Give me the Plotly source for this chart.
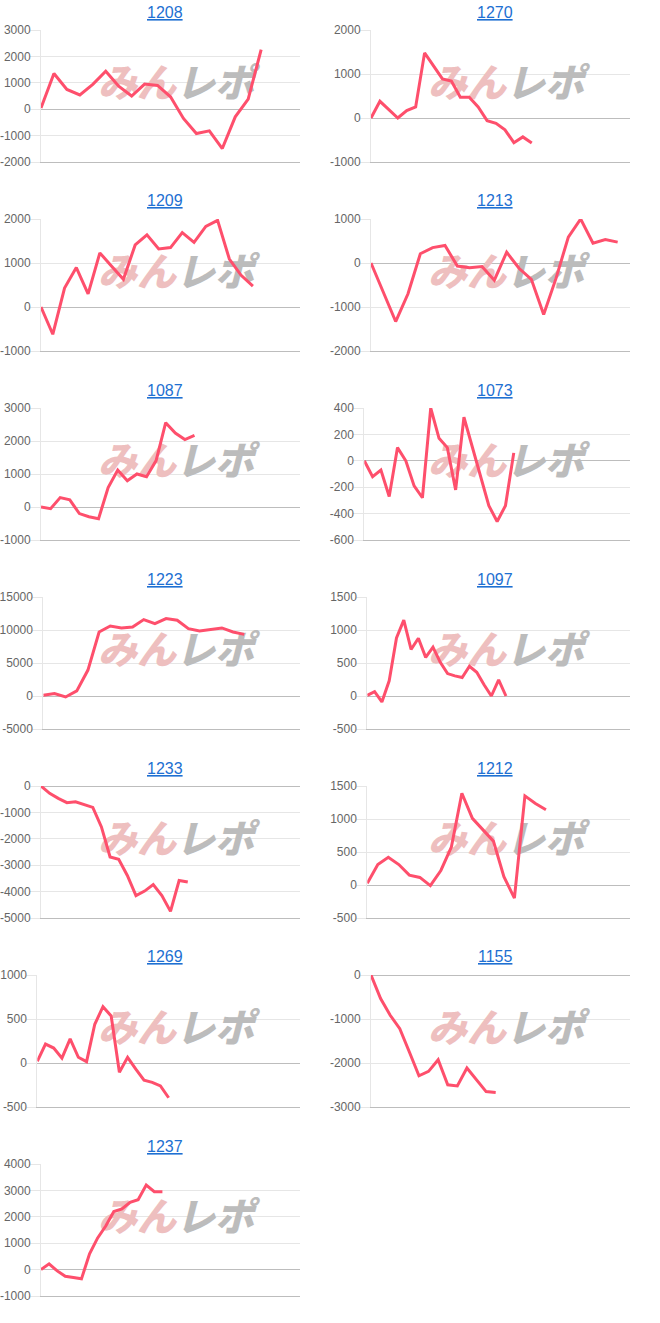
import plotly.graph_objects as go

# ---------------- data ----------------
titles = ["1208", "1270", "1209", "1213", "1087", "1073", "1223",
          "1097", "1233", "1212", "1269", "1155", "1237"]

s1208 = [50, 1350, 750, 540, 940, 1440, 870, 500, 950, 900, 470, -350, -920, -820, -1490, -290, 380, 2260]
s1270 = [0, 380, 190, 0, 170, 250, 1480, 1180, 890, 840, 470, 470, 250, -60, -120, -270, -560, -430, -570]
s1209 = [0, -620, 430, 895, 300, 1230, 925, 630, 1410, 1640, 1320, 1350, 1690, 1470, 1830, 1970, 1090, 720, 475]
s1213 = [0, -670, -1330, -700, 210, 350, 400, -70, -110, -80, -390, 245, -120, -370, -1170, -350, 590, 1000, 450, 535, 475]
s1087 = [0, -50, 285, 215, -200, -295, -355, 590, 1120, 795, 1000, 915, 1405, 2555, 2240, 2045, 2170]
s1073 = [0, -120, -70, -270, 100, 0, -190, -280, 400, 170, 100, -220, 330, 110, -120, -340, -460, -340, 60]
s1223 = [100, 360, -150, 770, 3930, 9700, 10610, 10300, 10460, 11580, 10970, 11730, 11480, 10200, 9850, 10050, 10310, 9700, 9340]
s1097 = [10, 65, -90, 230, 880, 1150, 705, 875, 585, 740, 510, 340, 305, 280, 450, 360, 170, 0, 245, 0]
s1233 = [0, -280, -470, -630, -600, -700, -810, -1550, -2690, -2780, -3390, -4150, -3980, -3730, -4150, -4750, -3580, -3640]
s1212 = [25, 310, 420, 310, 150, 115, -10, 220, 575, 1390, 1010, 830, 665, 125, -200, 1350, 1235, 1140]
s1269 = [20, 215, 170, 55, 275, 65, 15, 440, 640, 535, -105, 65, -70, -195, -220, -260, -395]
s1155 = [0, -535, -915, -1220, -1750, -2290, -2190, -1925, -2495, -2520, -2115, -2390, -2650, -2670]
s1237 = [0, 220, -50, -250, -300, -350, 600, 1200, 1650, 2200, 2300, 2550, 2650, 3200, 2950, 2950]

series = [s1208, s1270, s1209, s1213, s1087, s1073, s1223,
          s1097, s1233, s1212, s1269, s1155, s1237]

# number of category slots on the x axis (last index)
x_slots = [20, 29, 22, 21, 27, 32, 23, 36, 30, 25, 32, 27, 32]

# y axis: min, max, step
y_min = [-2000, -1000, -1000, -2000, -1000, -600, -5000, -500, -5000, -500, -500, -3000, -1000]
y_max = [3000, 2000, 2000, 1000, 3000, 400, 15000, 1500, 0, 1500, 1000, 0, 4000]
y_step = [1000, 1000, 1000, 1000, 1000, 200, 5000, 500, 1000, 500, 500, 1000, 1000]

# ---------------- layout (pixels) ----------------
W, H = 660, 1323
COL_W = 330
ROW_PITCH = 189
PLOT_TOP0, PLOT_BOT0 = 30, 162
TITLE_Y0 = 12
plot_right = [300, 630]
plot_left_offset = [41, 41, 41, 41, 41, 34.3, 43.3, 37.3, 41, 37.3, 37.3, 41, 41]

LINE_COLOR = "#fe4f6c"
GRID = "#e6e6e6"
ZERO = "#bdbdbd"
FONT = "Liberation Sans, Arial, sans-serif"

fig = go.Figure()
annotations = []


def px_to_paper_x(px):
    return px / W


def px_to_paper_y(py):
    return 1 - py / H


for k, (title, vals) in enumerate(zip(titles, series)):
    row, col = divmod(k, 2)
    c0 = col * COL_W
    left = c0 + plot_left_offset[k]
    right = plot_right[col]
    top = PLOT_TOP0 + ROW_PITCH * row
    bot = PLOT_BOT0 + ROW_PITCH * row
    n = x_slots[k]
    ymin, ymax, step = y_min[k], y_max[k], y_step[k]
    sfx = "" if k == 0 else str(k + 1)
    xa, ya = "x" + sfx, "y" + sfx

    tickvals = list(range(ymin, ymax + 1, step))
    ticktext = [str(v) for v in tickvals]

    fig.layout["xaxis" + sfx] = dict(
        domain=[px_to_paper_x(left), px_to_paper_x(right)],
        range=[0, n], anchor=ya, showgrid=False, zeroline=False,
        showticklabels=False, ticks="", showline=True, linecolor=ZERO,
        linewidth=1, fixedrange=True, automargin=False,
    )
    fig.layout["yaxis" + sfx] = dict(
        domain=[px_to_paper_y(bot), px_to_paper_y(top)],
        range=[ymin, ymax], anchor=xa, tickmode="array",
        tickvals=tickvals, ticktext=ticktext,
        showgrid=True, gridcolor=GRID, gridwidth=1,
        zeroline=True, zerolinecolor=ZERO, zerolinewidth=1,
        showline=True, linecolor=GRID, linewidth=1,
        ticks="outside", ticklen=10, tickcolor=GRID, tickwidth=1,
        ticklabelstandoff=-3,
        tickfont=dict(family=FONT, size=12, color="#666666"),
        fixedrange=True, automargin=False,
    )

    # watermark (drawn first so the line sits on top)
    wm_y_px = 87 + ROW_PITCH * row
    yd = ymax - (wm_y_px - top) / (bot - top) * (ymax - ymin)
    for txt, cx, color in (("みん", c0 + 137, "#eebfbf"), ("レポ", c0 + 215, "#bcbcbc")):
        xd = (cx - left) / (right - left) * n
        fig.add_trace(go.Scatter(
            x=[xd], y=[yd], mode="text", text=[txt], textposition="middle center",
            textfont=dict(family="Noto Sans CJK JP", size=39, color=color,
                          weight=900, style="italic"),
            xaxis=xa, yaxis=ya, hoverinfo="skip", showlegend=False, cliponaxis=False,
        ))

    fig.add_trace(go.Scatter(
        x=list(range(len(vals))), y=vals, mode="lines",
        line=dict(color=LINE_COLOR, width=3),
        xaxis=xa, yaxis=ya, showlegend=False, cliponaxis=False,
        hoverinfo="skip",
    ))

    annotations.append(dict(
        xref="paper", yref="paper",
        x=px_to_paper_x(c0 + 165), y=px_to_paper_y(TITLE_Y0 + ROW_PITCH * row),
        xanchor="center", yanchor="middle", showarrow=False,
        text="<u>" + title + "</u>",
        font=dict(family=FONT, size=16, color="#1e70d2"),
    ))

fig.update_layout(
    width=W, height=H, margin=dict(l=0, r=0, t=0, b=0, autoexpand=False),
    paper_bgcolor="white", plot_bgcolor="white",
    annotations=annotations, showlegend=False,
)

fig.write_html("out.html", config={"displayModeBar": False, "staticPlot": True})
